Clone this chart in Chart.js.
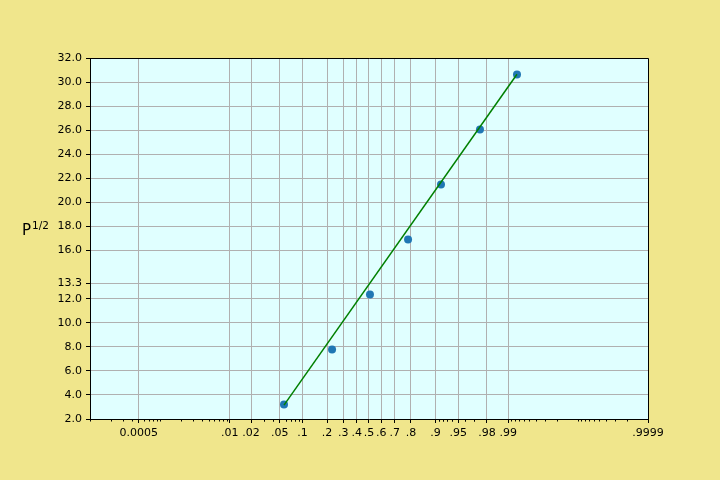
<!DOCTYPE html>
<html>
<head>
<meta charset="utf-8">
<script src="https://cdn.jsdelivr.net/npm/chart.js@4"></script>
<style>
  html, body { margin: 0; padding: 0; background: #f0e68c; }
  canvas { display: block; }
</style>
</head>
<body>
<canvas id="myChart" width="720" height="480"></canvas>
<script>
// probability (x) and P^1/2 (y) of the measured points
const probs = [0.057, 0.228, 0.508, 0.784, 0.915, 0.975, 0.9925];
const rootP = [3.2, 7.77, 12.34, 16.91, 21.48, 26.05, 30.63];

// fitted line, two ends
const fitProbs = [0.057, 0.9925];
const fitRootP = [3.15, 30.65];

// axis ticks
const xTickProbs = [0.0005, 0.01, 0.02, 0.05, 0.1, 0.2, 0.3, 0.4, 0.5, 0.6, 0.7, 0.8, 0.9, 0.95, 0.98, 0.99, 0.9999];
const xTickLabels = ['0.0005', '.01', '.02', '.05', '.1', '.2', '.3', '.4', '.5', '.6', '.7', '.8', '.9', '.95', '.98', '.99', '.9999'];
const yTicks = [2, 4, 6, 8, 10, 12, 13.3, 16, 18, 20, 22, 24, 26, 28, 30, 32];
const xMin = 0.0001, xMax = 0.9999;

// probabilitní (logit) osa
const logit = p => Math.log(p / (1 - p));

// vedlejší značky jako u matplotlib logit osy
const minorProbs = [];
for (let n = 4; n >= 2; n--) {
    for (let k = 1; k <= 9; k++) {
        const p = k * Math.pow(10, -n);
        minorProbs.push(p, 1 - p);
    }
}
[0.03, 0.04, 0.06, 0.07, 0.08, 0.09].forEach(p => minorProbs.push(p, 1 - p));

Chart.defaults.font.family = "'DejaVu Sans', sans-serif";
Chart.defaults.font.size = 11;
Chart.defaults.color = '#000';

const framePlugin = {
    id: 'frame',
    beforeDraw(chart) {
        const a = chart.chartArea;
        const ctx = chart.ctx;
        ctx.save();
        ctx.fillStyle = '#e0ffff';
        ctx.fillRect(a.left, a.top, a.right - a.left, a.bottom - a.top);
        ctx.restore();
    },
    afterDraw(chart) {
        const a = chart.chartArea;
        const ctx = chart.ctx;
        const xs = chart.scales.x;
        ctx.save();
        ctx.strokeStyle = '#000';
        ctx.lineWidth = 1;
        ctx.beginPath();
        ctx.moveTo(a.left, a.top + 0.5);
        ctx.lineTo(a.right + 0.5, a.top + 0.5);
        ctx.lineTo(a.right + 0.5, a.bottom);
        ctx.stroke();
        // minor ticks
        ctx.beginPath();
        minorProbs.forEach(p => {
            if (xTickProbs.some(t => Math.abs(t - p) < 1e-9)) return;
            const x = Math.round(xs.getPixelForValue(logit(p))) + 0.5;
            ctx.moveTo(x, a.bottom);
            ctx.lineTo(x, a.bottom + 2.5);
        });
        ctx.stroke();
        // y label P^1/2
        ctx.fillStyle = '#000';
        ctx.textBaseline = 'alphabetic';
        ctx.font = "15px 'DejaVu Sans'";
        ctx.fillText('P', 22, 235);
        ctx.font = "10.5px 'DejaVu Sans'";
        ctx.fillText('1/2', 32, 229);
        ctx.restore();
    }
};

const ctx = document.getElementById('myChart').getContext('2d');
new Chart(ctx, {
    type: 'scatter',
    data: {
        datasets: [{
            type: 'line',
            data: fitProbs.map((p, i) => ({ x: logit(p), y: fitRootP[i] })),
            borderColor: '#008000',
            borderWidth: 1.5,
            pointRadius: 0,
            fill: false
        }, {
            data: probs.map((p, i) => ({ x: logit(p), y: rootP[i] })),
            backgroundColor: '#1f77b4',
            borderWidth: 0,
            pointRadius: 4
        }]
    },
    options: {
        responsive: false,
        animation: false,
        layout: { padding: { top: 58, right: 72, left: 0, bottom: 0 } },
        plugins: {
            legend: { display: false },
            tooltip: { enabled: false }
        },
        scales: {
            x: {
                type: 'linear',
                min: logit(xMin),
                max: logit(xMax),
                afterBuildTicks: scale => {
                    scale.ticks = xTickProbs.map(p => ({ value: logit(p) }));
                },
                afterFit: scale => { scale.height = 61; },
                ticks: {
                    autoSkip: false,
                    maxRotation: 0,
                    padding: 4,
                    callback: (v, i) => xTickLabels[i]
                },
                grid: {
                    color: '#b0b0b0',
                    tickColor: '#000',
                    tickLength: 4
                },
                border: { color: '#000', width: 1 }
            },
            y: {
                min: 2,
                max: 32,
                afterBuildTicks: scale => {
                    scale.ticks = yTicks.map(v => ({ value: v }));
                },
                afterFit: scale => { scale.width = 90; },
                ticks: {
                    autoSkip: false,
                    padding: 4,
                    callback: v => v.toFixed(1)
                },
                grid: {
                    color: '#b0b0b0',
                    tickColor: '#000',
                    tickLength: 4
                },
                border: { color: '#000', width: 1 }
            }
        }
    },
    plugins: [framePlugin]
});
</script>
</body>
</html>
